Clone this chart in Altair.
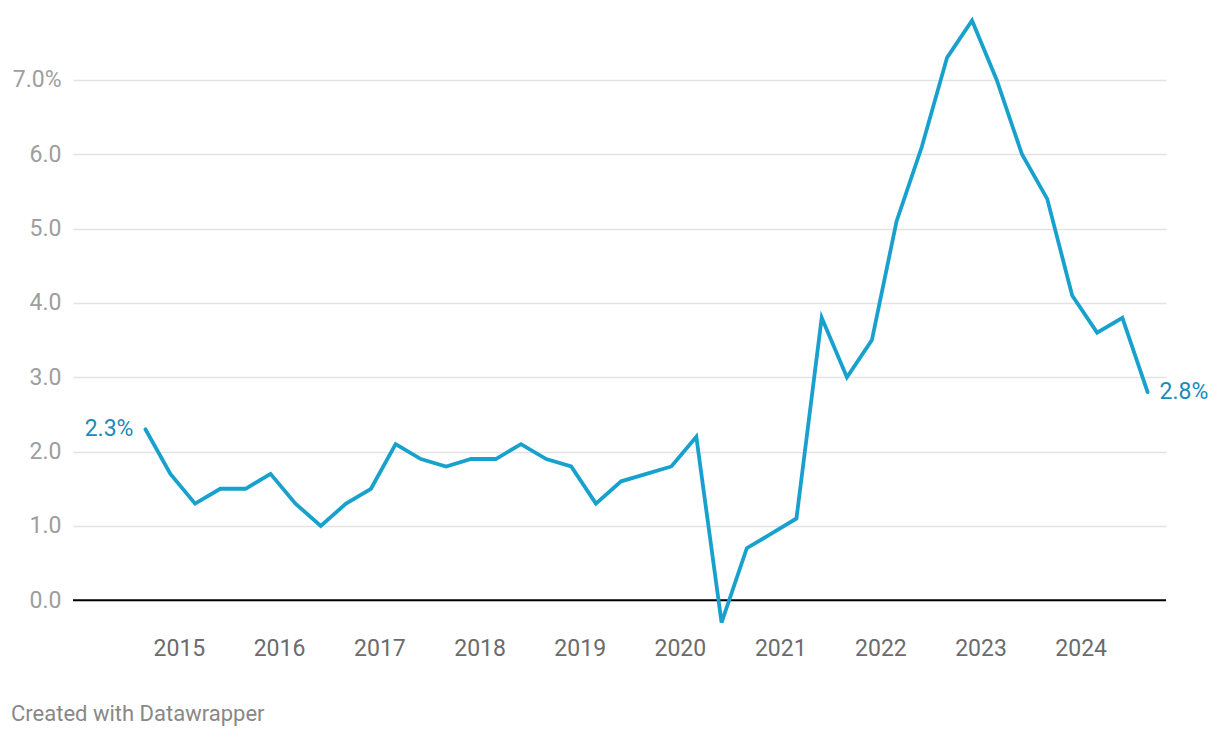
import altair as alt
import pandas as pd

# Quarterly observations (month of observation)
dates = [
    "2014-09-01", "2014-12-01",
    "2015-03-01", "2015-06-01", "2015-09-01", "2015-12-01",
    "2016-03-01", "2016-06-01", "2016-09-01", "2016-12-01",
    "2017-03-01", "2017-06-01", "2017-09-01", "2017-12-01",
    "2018-03-01", "2018-06-01", "2018-09-01", "2018-12-01",
    "2019-03-01", "2019-06-01", "2019-09-01", "2019-12-01",
    "2020-03-01", "2020-06-01", "2020-09-01", "2020-12-01",
    "2021-03-01", "2021-06-01", "2021-09-01", "2021-12-01",
    "2022-03-01", "2022-06-01", "2022-09-01", "2022-12-01",
    "2023-03-01", "2023-06-01", "2023-09-01", "2023-12-01",
    "2024-03-01", "2024-06-01", "2024-09-01",
]
values = [
    2.3, 1.7,
    1.3, 1.5, 1.5, 1.7,
    1.3, 1.0, 1.3, 1.5,
    2.1, 1.9, 1.8, 1.9,
    1.9, 2.1, 1.9, 1.8,
    1.3, 1.6, 1.7, 1.8,
    2.2, -0.3, 0.7, 0.9,
    1.1, 3.8, 3.0, 3.5,
    5.1, 6.1, 7.3, 7.8,
    7.0, 6.0, 5.4, 4.1,
    3.6, 3.8, 2.8,
]
tick_years = [2015, 2016, 2017, 2018, 2019, 2020, 2021, 2022, 2023, 2024]
y_ticks = [0, 1, 2, 3, 4, 5, 6, 7]
footer_text = "Created with Datawrapper"

LINE = "#18a1cd"
LABEL = "#1a8bb8"
FONT = "Roboto"

df = pd.DataFrame({"date": dates, "value": values})
first = df.iloc[[0]].assign(label=lambda d: d["value"].map(lambda v: f"{v:.1f}%"))
last = df.iloc[[-1]].assign(label=lambda d: d["value"].map(lambda v: f"{v:.1f}%"))

x_scale = alt.Scale(
    type="utc",
    domain=[alt.DateTime(year=2013, month=12, date=11, utc=True),
            alt.DateTime(year=2024, month=11, date=7, utc=True)],
)
y_scale = alt.Scale(domain=[-0.4, 7.9], nice=False, zero=False)

x_enc = alt.X(
    "date:T", scale=x_scale, title=None,
    axis=alt.Axis(
        values=[alt.DateTime(year=y, month=1, date=1, utc=True) for y in tick_years],
        labelExpr="utcFormat(datum.value, '%Y')",
        ticks=False, tickSize=0, domain=False, grid=False,
        labelFont=FONT, labelFontSize=23, labelColor="#6b6b6b",
        labelBaseline="middle", labelPadding=18, labelFlush=False,
    ),
)
y_enc = alt.Y(
    "value:Q", scale=y_scale, title=None,
    axis=alt.Axis(
        values=y_ticks,
        labelExpr="datum.value == 7 ? '7.0%' : format(datum.value, '.1f')",
        ticks=False, tickSize=0, domain=False, grid=True,
        gridColor="#e3e3e3", gridWidth=1.5,
        labelFont=FONT, labelFontSize=23, labelColor="#9e9e9e",
        labelBaseline="middle", labelPadding=12, labelFlush=False,
    ),
)

base = alt.Chart(df)

line = base.mark_line(color=LINE, strokeWidth=3.8, strokeJoin="miter", strokeCap="round", clip=False).encode(
    x=x_enc, y=y_enc
)

zero = alt.Chart(pd.DataFrame({"v": [0]})).mark_rule(color="#000000", strokeWidth=2).encode(
    y=alt.Y("v:Q", scale=y_scale),
    x=alt.value(0), x2=alt.value(1093),
)

lab_first = alt.Chart(first).mark_text(
    align="right", baseline="middle", dx=-12, font=FONT, fontSize=23, color=LABEL
).encode(x=alt.X("date:T", scale=x_scale), y=alt.Y("value:Q", scale=y_scale), text="label:N")

lab_last = alt.Chart(last).mark_text(
    align="left", baseline="middle", dx=12, font=FONT, fontSize=23, color=LABEL
).encode(x=alt.X("date:T", scale=x_scale), y=alt.Y("value:Q", scale=y_scale), text="label:N")

footer = alt.Chart(pd.DataFrame({"t": [footer_text]})).mark_text(
    align="left", baseline="middle", font=FONT, fontSize=22, color="#888888"
).encode(x=alt.value(-62), y=alt.value(701), text="t:N")

chart = (
    alt.layer(zero, line, lab_first, lab_last, footer)
    .properties(
        width=1093, height=617,
        autosize=alt.AutoSizeParams(type="none"),
        padding={"left": 65, "top": 5, "right": 46, "bottom": 99},
        background="white",
    )
    .configure_view(stroke=None)
)

chart.save("out.html", embed_options={"renderer": "svg", "actions": False})
